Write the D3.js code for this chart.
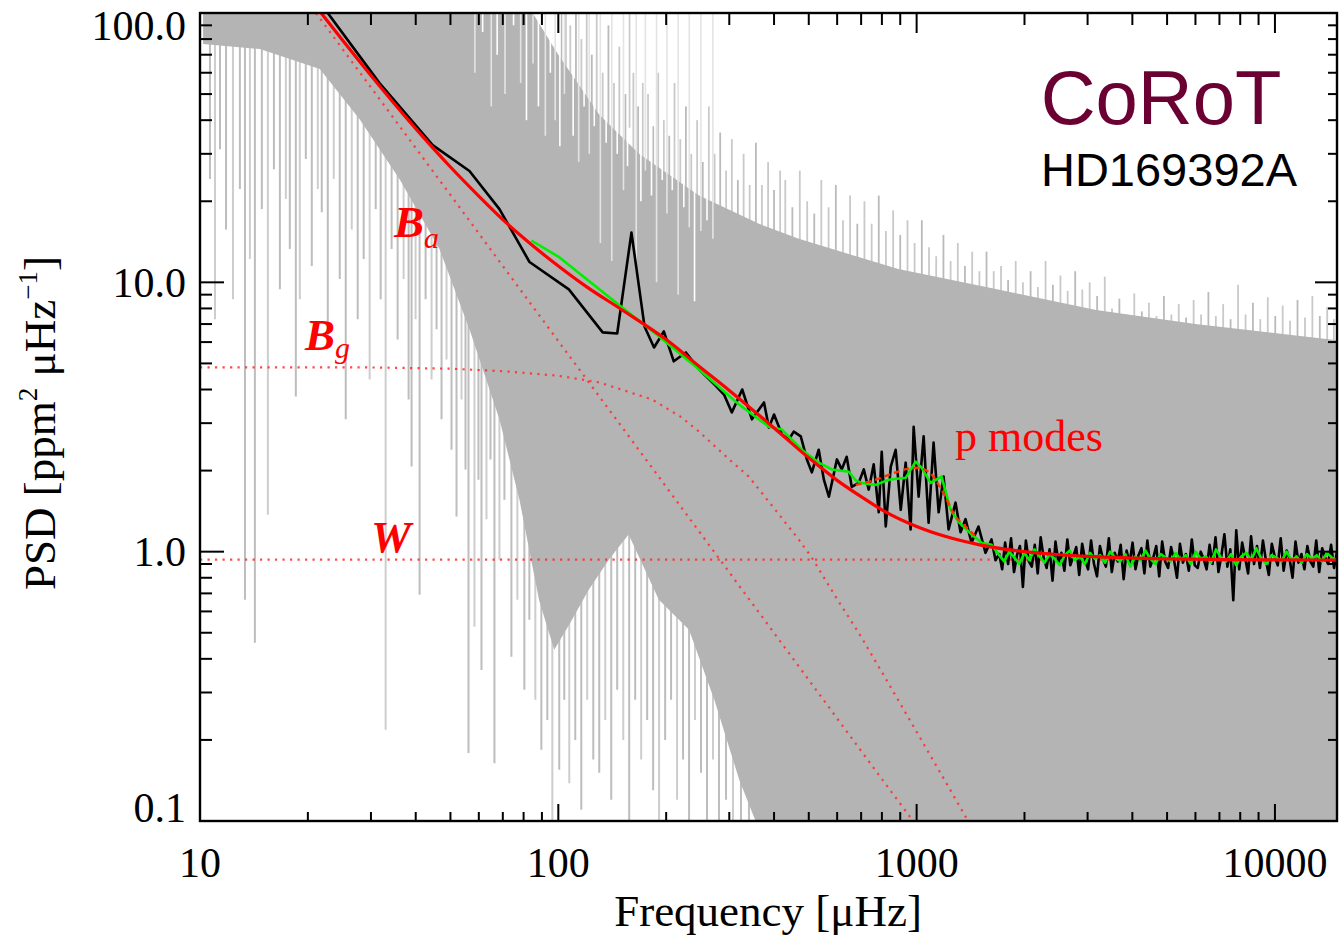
<!DOCTYPE html>
<html>
<head>
<meta charset="utf-8">
<script src="https://cdn.jsdelivr.net/npm/d3@7"></script>
<style>
  body { margin: 0; background: #fff; }
  svg { display: block; }
  .serif { font-family: "Liberation Serif", "Times New Roman", serif; }
  .sans { font-family: "Liberation Sans", Arial, sans-serif; }
</style>
</head>
<body>
<svg id="chart" width="1339" height="937"></svg>
<script>
// ---------------- data (frequency in µHz, PSD in ppm²/µHz) ----------------

// axis ticks
const xMajorTicks = [10, 100, 1000, 10000];
const xTickLabels = ["10", "100", "1000", "10000"];
const yMajorTicks = [0.1, 1, 10, 100];
const yTickLabels = ["0.1", "1.0", "10.0", "100.0"];

// raw spectrum: dense core (upper and lower edge of the filled band)
const grayCeil = [[10.2,150],[56.5,150],[78,120],[100,70],[130,42],[168,30],[247,21],[363,16.5],
  [469,14.5],[889,11.2],[1690,9.4],[3170,7.9],[6000,7.0],[14900,6.1]];
const grayFloor = [[10.2,76.7],[14.7,73.5],[21.6,61.9],[27.9,40.3],[36.1,24.1],[46.6,13.3],[56.5,6.69],
  [68.5,3.10],[77.9,1.56],[88.4,0.66],[97.4,0.432],[107.2,0.535],[121.6,0.722],[138.3,0.934],[157.1,1.157],
  [190.8,0.663],[231.6,0.513],[272.5,0.282],[320,0.142],[363,0.093],[412,0.05],[14900,0.05]];

// raw spectrum: individual dips [freq, low value, high value]
const grayDips = [[10.66,24.2,150],[11.01,7.29,150],[11.37,31.2,150],[11.82,15.7,150],[12.36,8.65,150],
  [12.92,22.2,150],[13.35,0.663,150],[13.78,12.2,150],[14.23,0.459,150],[14.88,18.7,150],[15.47,1.37,150],
  [16.08,26.3,150],[16.71,9.42,150],[17.36,20.4,150],[17.81,13.3,150],[18.51,3.77,150],[18.99,8.65,150],
  [19.74,28.7,150],[20.51,11.5,150],[21.32,22.2,150],[21.87,18.2,150],[22.73,6.14,150],[23.62,24.2,150],
  [24.55,10.3,150],[25.51,3.10,150],[26.51,15.7,150],[27.55,7.29,150],[28.63,12.2,150],[29.75,4.36,150],
  [30.93,18.7,150],[31.93,8.65,150],[32.97,0.218,150],[34.26,13.3,150],[35.61,6.14,150],[37.00,10.3,150],
  [38.21,3.67,150],[38.95,2.07,150],[39.96,7.29,150],[41.01,0.692,150],[42.62,8.65,150],[44.29,4.36,150],
  [45.73,6.69,150],[47.22,3.10,150],[48.76,5.17,150],[50.35,2.39,150],[51.99,1.35,150],[53.68,3.67,150],
  [55.08,2.02,150],[56.15,0.179,150],[58.34,0.526,30],[59.86,1.85,30],[61.03,0.364,30],[63.02,1.32,30],
  [64.66,2.20,30],[66.33,0.164,30],[68.50,0.934,30],[70.73,1.56,30],[73.97,0.407,30],[76.87,0.663,30],
  [80.40,0.307,30],[83.02,0.559,30],[86.27,0.282,30],[89.67,0.184,30],[93.19,0.237,30],[96.23,0.08,30],
  [100.6,0.155,10],[103.9,0.282,10],[107.3,0.138,10],[111.5,0.200,10],[115.9,0.110,10],[120.4,0.282,10],
  [125.2,0.169,10],[130.1,0.151,10],[135.2,0.237,10],[140.5,0.120,10],[146.0,0.307,10],[151.8,0.200,10],
  [157.7,0.08,10],[163.9,0.282,10],[170.3,0.169,10],[177.0,0.237,10],[183.9,0.130,10],[191.1,0.08,10],
  [198.7,0.200,5],[206.4,0.282,5],[214.5,0.120,5],[222.9,0.169,5],[231.7,0.08,5],[240.7,0.237,5],
  [250.2,0.151,5],[260.0,0.08,5],[270.2,0.169,5],[280.8,0.08,5],[293.8,0.120,5],[307.3,0.08,5],
  [323.4,0.08,5],[340.4,0.08,5],[358.3,0.08,5]];

// raw spectrum: individual peaks above the dense core [freq, peak value]
const grayPeaks = [[102,150],[105,110],[108,90],[112,150],[116,80],[120,100],[124,70],[128,150],[133,60],
  [138,90],[143,55],[148,75],[154,50],[158,150],[162,60],[167,45],[172,55],
  [178,50],[184,38],[190,60],[197,40],[204,35],[211,55],[219,34],[227,45],[235,30],[244,40],[253,28],
  [263,45],[273,30],[283,36],[294,26],[305,34],[317,24],[329,30],[342,23],[356,33],[370,23],[385,28],
  [400,22],[416,26],
  [430,24],[450,19],[472,26],[495,20],[518,18],[542,24],[568,19],[595,23],[623,17],[652,21],[683,16.5],
  [715,20],[749,16.5],[784,21],[821,15.5],[860,18.5],[900,15],[943,17],[987,14],[1034,17],[1083,13.5],
  [1134,12.5],[1188,15],[1244,12],[1303,14],[1364,11.5],[1429,13],[1497,11],[1567,13],[1641,11],
  [1720,11.5],[1800,10.2],[1890,12],[1980,10],[2080,11],[2180,9.6],[2290,12],[2400,9.8],[2520,10.6],
  [2640,9.3],[2770,11],[2900,9.4],[3040,10],[3190,8.9],[3350,10.5],[3510,8],[3680,8.7],[3860,7.6],
  [4050,9.1],[4250,7.8],[4450,8.4],[4670,7.5],[4900,8.9],[5140,7.6],[5390,8.3],[5650,7.4],[5930,8.6],
  [6220,7.6],[6520,9.2],[6840,7.5],[7170,8.3],[7520,7.3],[7890,9.8],[8280,7.6],[8680,8.4],[9100,7.3],
  [9550,8.8],[10020,7.5],[10510,8.2],[11020,7.2],[11560,8.6],[12130,7.4],[12720,8.9],[13340,7.5],
  [13990,8.1],[14600,7.3]];

// raw spectrum: columns whose maximum stays below the dense core [freq, column maximum]
const grayGaps = [[58.5,60],[61.5,85],[65,45],[67.5,70],[71,50],[75,90],[78.5,55],[81.5,40],[85,65],
  [88,45],[92,35],[95,60],[98,40],[101,32],[104,50],[110,35],[114,28],[118,45],[122,30],[126,38],
  [131,14],[136,33],[141,12],[146,30],[152,22],[156,27],[165,11],[170,20],[175,26],[182,21],[188,10],
  [195,24],[201,18],[208,22],[216,9],[224,19],[232,16],[240,8.5],[250,15.5],[260,17],[270,14.5]];

// smoothed spectrum (black), low-frequency part
const smoothSpec = [[22.6,101],[31.7,54.9],[44.6,32.3],[56.5,25.9],[68.5,18.7],[83.1,11.9],[107,9.42],
  [133,6.52],[146,6.46],[160,15.3],[174,6.86],[185,5.73],[197,6.57],[210,5.09],[227,5.49],[247,4.75],
  [276,4.11],[290,3.83],[305,3.29],[326,4.00],[347,3.10],[375,3.58],[387,2.89],[400,3.23],[421,2.72],
  [440,2.61],[454,2.79],[475,2.68],[494,2.20],[510,1.97],[533,2.39],[551,1.85],[569,1.60],[599,2.20],
  [618,2.02],[638,2.25],[659,1.74],[689,1.80],[712,2.02],[735,1.70],[759,2.11],[784,1.40],[799,2.35],
  [820,1.24],[847,2.07],[874,2.39],[903,1.43],[932,2.14],[962,1.21],[981,2.91],[1013,1.60],[1046,2.68],
  [1080,1.28],[1115,2.54],[1152,1.40],[1189,1.90],[1228,1.21],[1284,1.52],[1326,1.18],[1369,1.32],
  [1423,1.08],[1488,1.24],[1557,0.99],[1618,1.11],[1660,0.93]];
// smoothed spectrum (black), high-frequency part, sampled from 1700 to 14900 µHz
const smoothTailRange = [1700, 14900];
const smoothTail = [0.98,0.86,1.08,0.90,1.12,0.84,0.97,1.05,0.74,1.10,0.92,0.88,1.06,0.83,1.13,0.95,0.87,
  1.02,0.78,1.09,0.91,0.99,0.85,1.11,0.89,0.96,1.04,0.82,1.07,0.93,0.86,1.10,0.90,0.81,1.05,0.94,0.88,1.12,
  0.84,0.99,0.92,1.06,0.79,1.01,0.90,1.08,0.86,0.97,1.03,0.83,1.10,0.88,0.95,1.05,0.81,1.09,0.92,0.87,1.04,
  0.93,0.80,1.07,0.91,0.98,0.85,1.11,0.89,0.87,1.00,0.94,0.86,1.06,0.90,1.13,0.84,0.97,1.16,0.88,1.02,0.66,
  1.20,0.86,1.08,0.95,0.83,1.14,0.90,1.05,0.87,1.10,0.93,0.82,1.07,0.96,0.89,1.12,0.85,1.01,0.94,0.80,1.09,
  0.91,0.98,0.86,1.05,0.92,0.88,1.10,0.84,1.03,0.95,0.90,1.06,0.87,1.00];

// heavily smoothed spectrum (green)
const greenSpec = [[84.1,14.3],[100.6,12.4],[122,10.1],[150.8,8.07],[191.1,6.30],[247.1,4.75],[319.3,3.52],
  [387.1,2.91],[420.7,2.84],[478.3,2.39],[533.3,2.14],[579.6,2.02],[646.6,1.98],[676,1.84],[702.9,1.80],
  [768.7,1.77],[835.6,1.85],[932.1,1.88],[993.7,2.16],[1032,2.05],[1094,1.80],[1174,1.90],[1244,1.43],
  [1309,1.29],[1423,1.16],[1518,1.08],[1618,1.06]];
const greenTailRange = [1700, 14900];
const greenTail = [0.97,0.92,1.00,0.95,0.90,0.99,0.93,1.02,0.96,0.91,0.98,0.94,0.89,0.97,1.01,0.93,0.96,0.90,
  0.99,0.94,0.97,0.91,1.00,0.95,0.92,0.98,0.88,0.96,0.93,1.01,0.94,0.90,0.98,0.95,0.92,0.99,0.93,0.97,0.90,
  1.00,0.94,0.96,0.91,1.02,0.95,0.92,0.98,0.89,0.96,0.99,0.93,1.03,0.94,0.90,0.97,0.95,0.92,1.00,0.93,0.96,
  0.91,0.98,0.94,0.97,0.92,0.99,0.95,0.93];

// background model: total and its components
const modelTotal = [[12,281],[15,190],[20,115.5],[25,79.2],[30,58.6],[40,37.2],[50,26.8],[60,20.9],[70,17.1],
  [80,14.6],[100,11.5],[120,9.62],[150,7.93],[200,6.13],[250,4.82],[300,3.97],[400,2.88],[500,2.23],
  [600,1.84],[700,1.60],[800,1.43],[1000,1.24],[1200,1.14],[1500,1.06],[2000,1.00],[2500,0.974],
  [3000,0.96],[4000,0.947],[5000,0.94],[7000,0.935],[10000,0.932],[14900,0.931]];
const modelBa = [[10,382],[15,184],[20,109.7],[30,52.9],[50,21.1],[70,11.5],[100,6.05],[150,2.92],
  [200,1.74],[300,0.838],[500,0.334],[700,0.182],[1000,0.0959],[1200,0.0691]];
const modelBg = [[10,4.83],[30,4.83],[50,4.78],[71.6,4.67],[100,4.50],[130,4.25],[183,3.67],[221,3.15],
  [247,2.79],[300,2.20],[340,1.90],[400,1.45],[469,1.108],[510,0.95],[600,0.666],[689,0.50],[800,0.357],
  [968,0.231],[1200,0.141],[1352,0.107],[1500,0.084]];
const modelW = [[10,0.934],[14900,0.934]];
// p-mode excess fit
const pmodeFit = [[676,1.77],[769,1.85],[874,1.97],[994,2.05],[1080,1.98],[1174,1.70],[1284,1.35],
  [1369,1.24],[1460,1.14]];

// ---------------- drawing ----------------
const svg = d3.select("#chart");
const pL = 200, pR = 1337, pT = 13, pB = 821;

const x = d3.scaleLog().domain([10, 14900]).range([pL, pR]);
const y = d3.scaleLog().domain([0.1, 100]).range([pB, pT]);

svg.append("defs").append("clipPath").attr("id", "plotArea")
  .append("rect").attr("x", pL).attr("y", pT).attr("width", pR - pL).attr("height", pB - pT);

const plot = svg.append("g").attr("clip-path", "url(#plotArea)");

const lin = d3.line().x(d => x(d[0])).y(d => y(d[1]));
const smooth = d3.line().x(d => x(d[0])).y(d => y(d[1])).curve(d3.curveMonotoneX);
const logGrid = (a, b, n) => d3.range(n).map(i => a * Math.pow(b / a, i / (n - 1)));

// raw spectrum: peaks and dips behind the dense core
plot.append("g").selectAll("path").data(grayPeaks).join("path")
  .attr("d", d => `M${x(d[0])},${y(d[1])}V${y(d[1] / 4)}`)
  .attr("stroke", (d, i) => i % 3 === 0 ? "#bababa" : "#c9c9c9")
  .attr("stroke-width", 1.8).attr("fill", "none");

plot.append("g").selectAll("path").data(grayDips).join("path")
  .attr("d", d => `M${x(d[0])},${y(d[2])}V${y(d[1])}`)
  .attr("stroke", (d, i) => i % 3 === 1 ? "#cdcdcd" : "#bdbdbd")
  .attr("stroke-width", 2).attr("fill", "none");

plot.append("path")
  .attr("d", lin(grayCeil.concat(grayFloor.slice().reverse())) + "Z")
  .attr("fill", "#b4b4b4");

// columns that stay low leave pale streaks in the core
plot.append("g").selectAll("path").data(grayGaps).join("path")
  .attr("d", d => `M${x(d[0])},${pT}V${y(d[1])}`)
  .attr("stroke", (d, i) => i % 2 ? "#ffffff" : "#e4e4e4")
  .attr("stroke-width", 1.6).attr("fill", "none");

// model components (dotted)
[modelBa, modelBg, modelW].forEach(series => {
  plot.append("path").attr("d", lin(series))
    .attr("fill", "none").attr("stroke", "#ff2a2a").attr("stroke-opacity", 0.85)
    .attr("stroke-width", 2.2).attr("stroke-dasharray", "2.2,5.3");
});

// smoothed spectrum
const blackAll = smoothSpec.concat(
  logGrid(smoothTailRange[0], smoothTailRange[1], smoothTail.length).map((f, i) => [f, smoothTail[i]]));
plot.append("path").attr("d", lin(blackAll))
  .attr("fill", "none").attr("stroke", "#000").attr("stroke-width", 2.6).attr("stroke-linejoin", "round");

const greenAll = greenSpec.concat(
  logGrid(greenTailRange[0], greenTailRange[1], greenTail.length).map((f, i) => [f, greenTail[i]]));
plot.append("path").attr("d", lin(greenAll))
  .attr("fill", "none").attr("stroke", "#00ee00").attr("stroke-width", 2.6).attr("stroke-linejoin", "round");

// total background model
plot.append("path").attr("d", smooth(modelTotal))
  .attr("fill", "none").attr("stroke", "#ff0000").attr("stroke-width", 3.2);

// p-mode fit
plot.append("path").attr("d", smooth(pmodeFit))
  .attr("fill", "none").attr("stroke", "#ff3300").attr("stroke-width", 2.4).attr("stroke-dasharray", "6,4");

// ---------------- axes ----------------
const minorOf = (majors, lo, hi) => {
  const out = [];
  majors.forEach(m => { for (let k = 2; k <= 9; k++) { const v = m * k; if (v > lo && v < hi) out.push(v); } });
  return out;
};
const xMinor = minorOf([10, 100, 1000, 10000], 10, 14900);
const yMinor = minorOf([0.1, 1, 10], 0.1, 100);

const axes = svg.append("g").attr("stroke", "#000").attr("stroke-width", 2);
const tick = (g, vals, fn) => g.append("g").selectAll("path").data(vals).join("path").attr("d", fn);

tick(axes, xMajorTicks, v => `M${x(v)},${pB}V${pB - 17}`);
tick(axes, xMinor, v => `M${x(v)},${pB}V${pB - 9}`);
tick(axes, xMajorTicks, v => `M${x(v)},${pT}V${pT + 20}`);
tick(axes, xMinor, v => `M${x(v)},${pT}V${pT + 12}`);
tick(axes, yMajorTicks, v => `M${pL},${y(v)}H${pL + 24}`);
tick(axes, yMinor, v => `M${pL},${y(v)}H${pL + 12}`);
tick(axes, yMajorTicks, v => `M${pR},${y(v)}H${pR - 22}`);
tick(axes, yMinor, v => `M${pR},${y(v)}H${pR - 9}`);

axes.append("rect").attr("x", pL).attr("y", pT).attr("width", pR - pL).attr("height", pB - pT)
  .attr("fill", "none").attr("stroke-width", 2.4);

// tick labels
svg.append("g").attr("class", "serif").attr("font-size", 42).attr("fill", "#000")
  .selectAll("text").data(xMajorTicks).join("text")
  .attr("x", d => x(d)).attr("y", 877).attr("text-anchor", "middle")
  .text((d, i) => xTickLabels[i]);

svg.append("g").attr("class", "serif").attr("font-size", 42).attr("fill", "#000")
  .selectAll("text").data(yMajorTicks).join("text")
  .attr("x", 186).attr("y", d => Math.min(Math.max(y(d), 26), 808)).attr("dy", "0.34em")
  .attr("text-anchor", "end")
  .text((d, i) => yTickLabels[i]);

// axis titles
svg.append("text").attr("class", "serif").attr("font-size", 45)
  .attr("x", 768).attr("y", 926).attr("text-anchor", "middle")
  .text("Frequency [\u03bcHz]");

const yt = svg.append("text").attr("class", "serif").attr("font-size", 45)
  .attr("transform", "translate(55,423) rotate(-90)").attr("text-anchor", "middle");
yt.append("tspan").text("PSD [ppm");
yt.append("tspan").attr("font-size", 27).attr("dy", -18).text("2");
yt.append("tspan").attr("dy", 18).text(" \u03bcHz");
yt.append("tspan").attr("font-size", 27).attr("dy", -18).text("\u22121");
yt.append("tspan").attr("dy", 18).text("]");

// annotations
const ann = svg.append("g").attr("class", "serif").attr("fill", "#ff0000");
const ba = ann.append("text").attr("x", 394).attr("y", 237);
ba.append("tspan").attr("font-size", 45).attr("font-weight", "bold").attr("font-style", "italic").text("B");
ba.append("tspan").attr("font-size", 30).attr("font-style", "italic").attr("dy", 11).text("a");
const bg = ann.append("text").attr("x", 305).attr("y", 350);
bg.append("tspan").attr("font-size", 45).attr("font-weight", "bold").attr("font-style", "italic").text("B");
bg.append("tspan").attr("font-size", 30).attr("font-style", "italic").attr("dy", 8).text("g");
ann.append("text").attr("x", 371).attr("y", 552).attr("font-size", 45)
  .attr("font-weight", "bold").attr("font-style", "italic").text("W");
ann.append("text").attr("x", 955).attr("y", 451).attr("font-size", 44).text("p modes");

// mission and target labels
svg.append("text").attr("class", "sans").attr("x", 1161).attr("y", 124).attr("text-anchor", "middle")
  .attr("font-size", 76).attr("fill", "#6b0033").text("CoRoT");
svg.append("text").attr("class", "sans").attr("x", 1169).attr("y", 186).attr("text-anchor", "middle")
  .attr("font-size", 47).attr("fill", "#000").text("HD169392A");
</script>
</body>
</html>
